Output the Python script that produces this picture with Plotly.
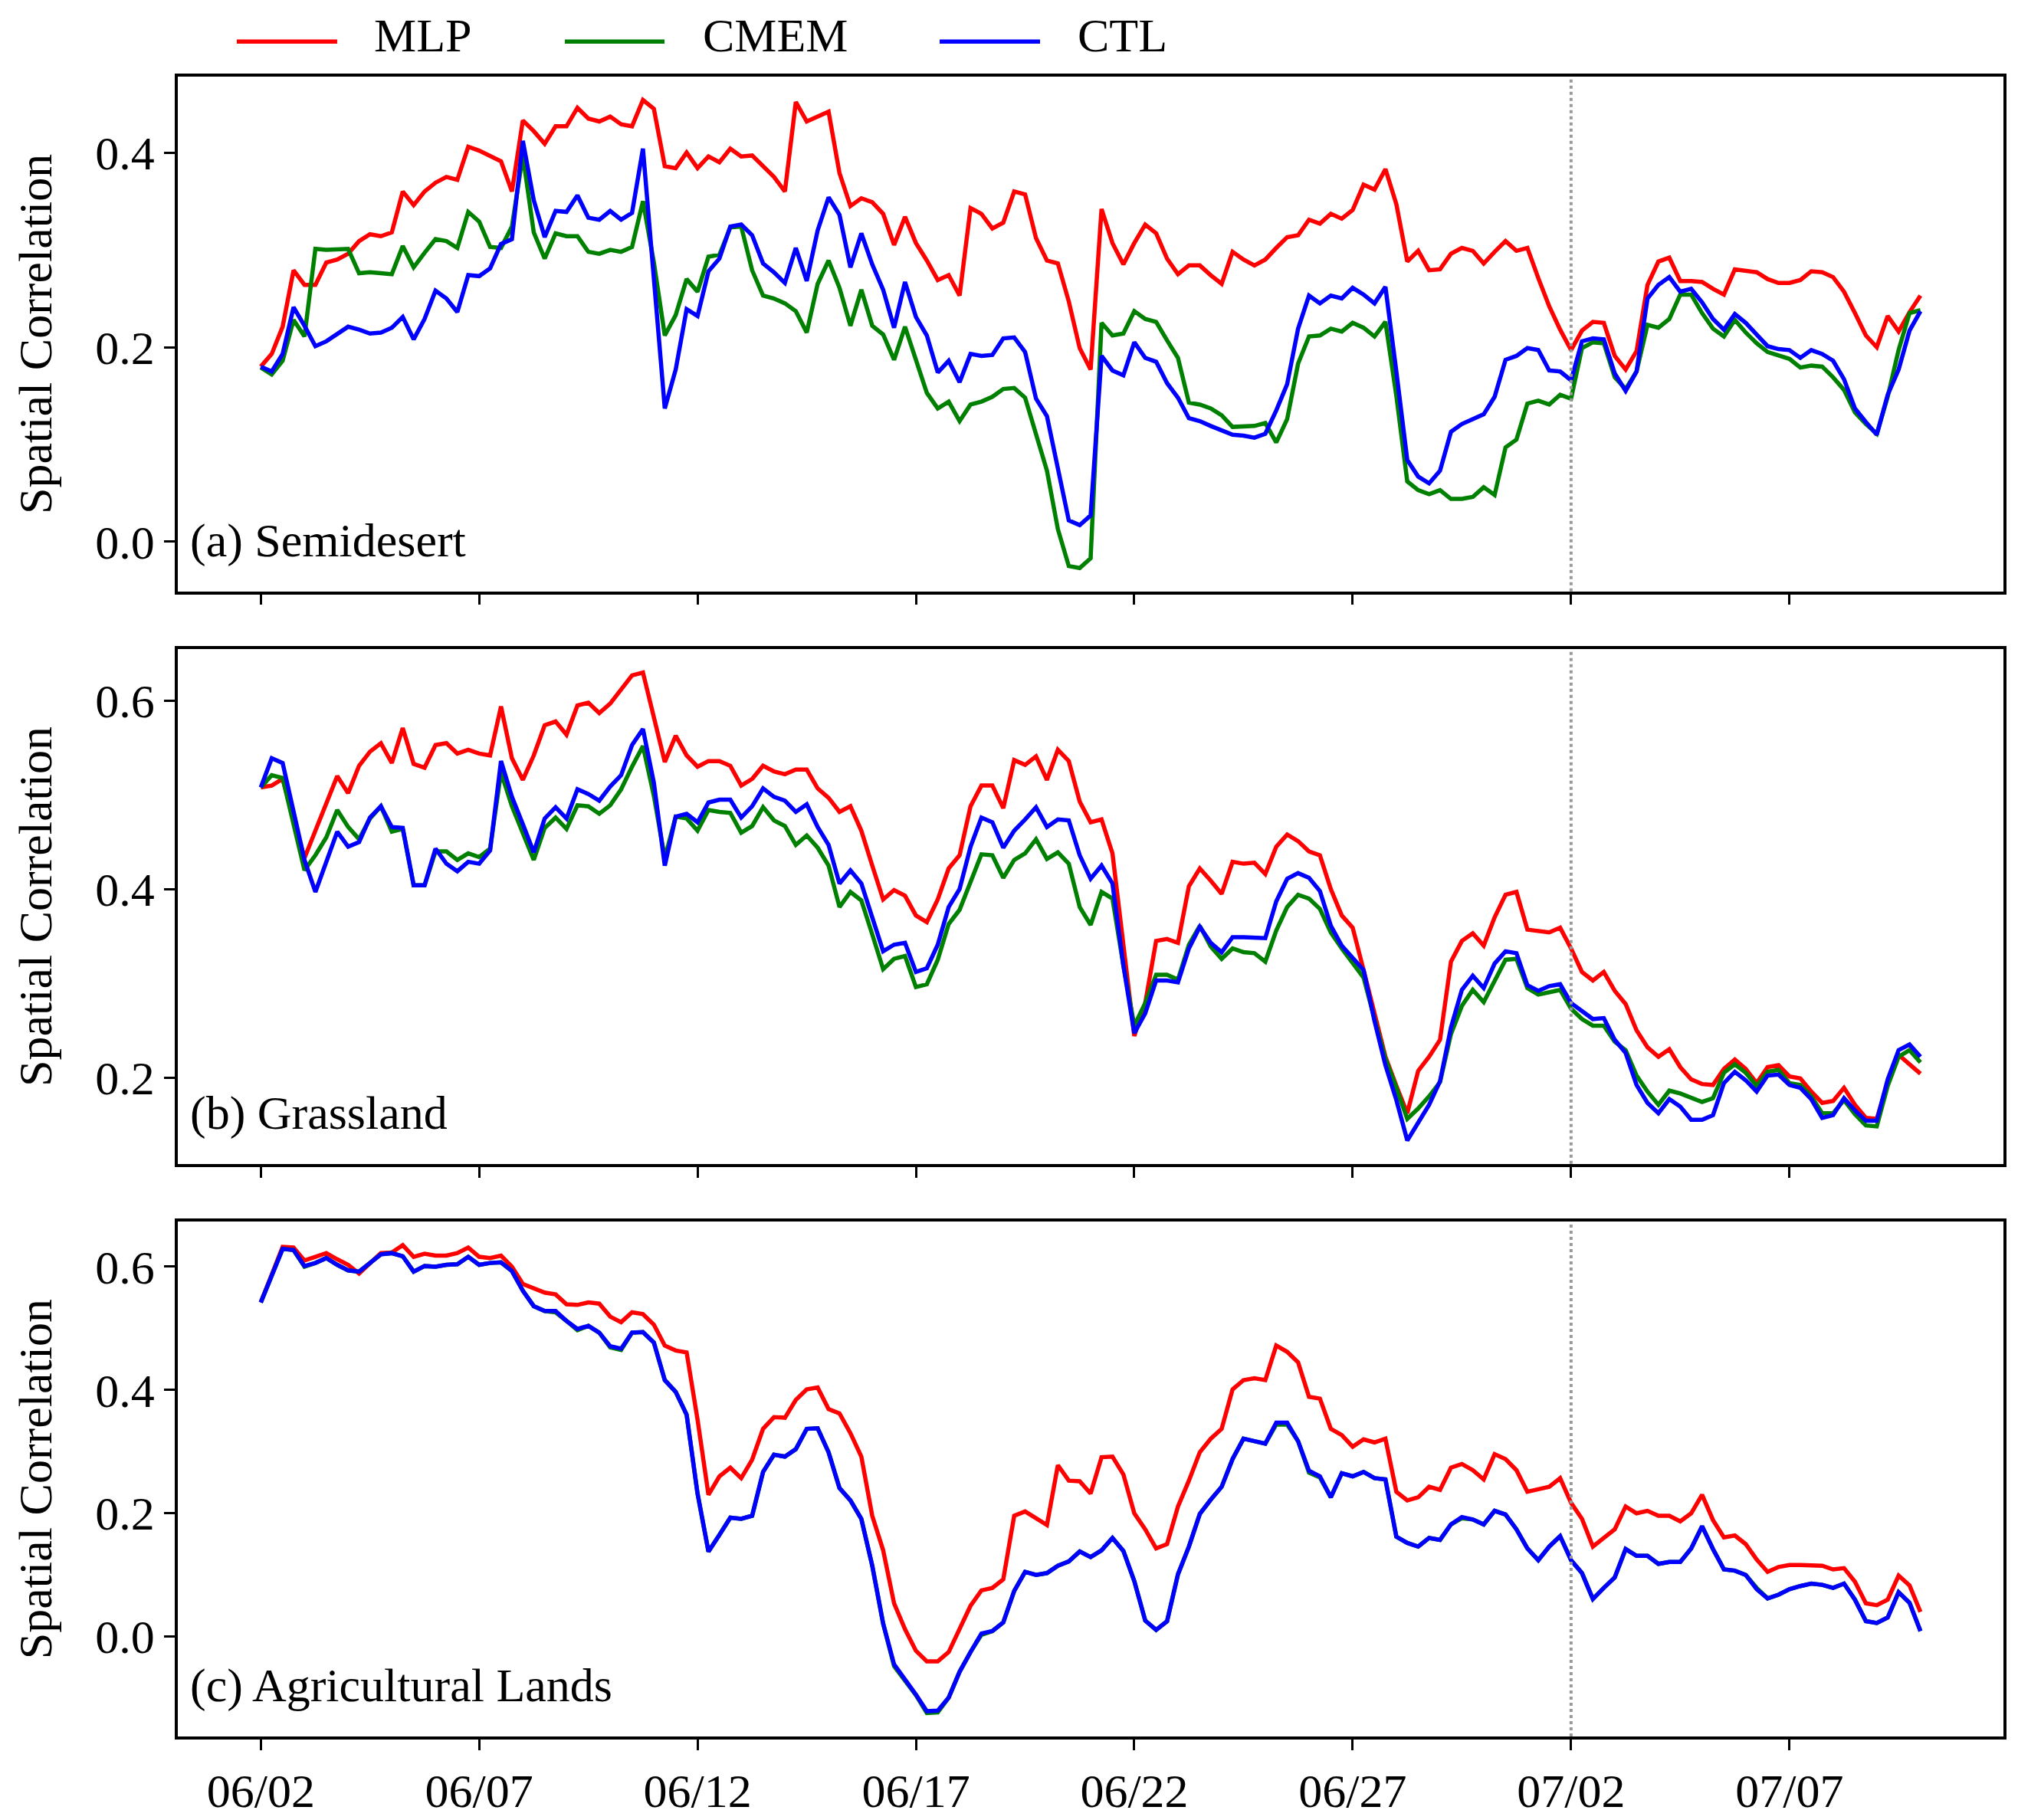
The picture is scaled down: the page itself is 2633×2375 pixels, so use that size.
import pandas as pd
import plotly.graph_objects as go
from plotly.subplots import make_subplots

# 6-hourly spatial correlation, 06/02 00:00 -> 07/10 00:00
start_date = "2021-06-02"
tick_labels = ["06/02", "06/07", "06/12", "06/17", "06/22", "06/27", "07/02", "07/07"]
tick_dates = ["2021-06-02", "2021-06-07", "2021-06-12", "2021-06-17",
              "2021-06-22", "2021-06-27", "2021-07-02", "2021-07-07"]
split_date = "2021-07-02"

panel_titles = ["(a) Semidesert", "(b) Grassland", "(c) Agricultural Lands"]
series_names = ["MLP", "CMEM", "CTL"]

# (a) Semidesert
mlp_a = [0.180, 0.193, 0.221, 0.279, 0.264, 0.264, 0.287, 0.290, 0.296, 0.309,
         0.316, 0.314, 0.318, 0.360, 0.346, 0.360, 0.369, 0.375, 0.372, 0.406,
         0.402, 0.397, 0.391, 0.360, 0.433, 0.422, 0.409, 0.427, 0.427, 0.446,
         0.435, 0.432, 0.437, 0.429, 0.427, 0.454, 0.445, 0.386, 0.384, 0.400,
         0.384, 0.396, 0.390, 0.404, 0.396, 0.397, 0.386, 0.375, 0.360, 0.452,
         0.432, 0.437, 0.442, 0.379, 0.345, 0.353, 0.349, 0.337, 0.305, 0.334,
         0.307, 0.289, 0.269, 0.274, 0.253, 0.343, 0.337, 0.322, 0.328, 0.360,
         0.357, 0.312, 0.289, 0.286, 0.247, 0.199, 0.177, 0.342, 0.307, 0.285,
         0.307, 0.326, 0.317, 0.291, 0.275, 0.284, 0.284, 0.274, 0.265, 0.298,
         0.290, 0.284, 0.290, 0.302, 0.313, 0.315, 0.331, 0.327, 0.337, 0.332,
         0.341, 0.367, 0.362, 0.383, 0.347, 0.288, 0.299, 0.279, 0.280, 0.296,
         0.302, 0.299, 0.286, 0.298, 0.309, 0.299, 0.302, 0.271, 0.242, 0.218,
         0.197, 0.217, 0.226, 0.225, 0.191, 0.177, 0.196, 0.264, 0.288, 0.292,
         0.268, 0.268, 0.267, 0.260, 0.254, 0.280, 0.279, 0.277, 0.270, 0.266,
         0.266, 0.269, 0.278, 0.277, 0.272, 0.257, 0.235, 0.212, 0.200, 0.232,
         0.216, 0.236, 0.253]
cmem_a = [0.179, 0.172, 0.186, 0.228, 0.211, 0.301, 0.300, 0.301, 0.301, 0.276,
          0.277, 0.276, 0.275, 0.304, 0.282, 0.297, 0.311, 0.309, 0.302, 0.339,
          0.329, 0.303, 0.302, 0.324, 0.397, 0.318, 0.291, 0.317, 0.314, 0.314,
          0.298, 0.296, 0.300, 0.298, 0.303, 0.350, 0.287, 0.212, 0.233, 0.270,
          0.257, 0.293, 0.295, 0.323, 0.324, 0.279, 0.253, 0.250, 0.245, 0.237,
          0.215, 0.265, 0.289, 0.261, 0.222, 0.259, 0.222, 0.213, 0.187, 0.221,
          0.187, 0.153, 0.137, 0.144, 0.124, 0.141, 0.144, 0.149, 0.157, 0.158,
          0.148, 0.111, 0.073, 0.013, -0.025, -0.027, -0.017, 0.225, 0.212, 0.214,
          0.237, 0.229, 0.226, 0.207, 0.189, 0.143, 0.141, 0.137, 0.130, 0.118,
          0.119, 0.119, 0.122, 0.102, 0.126, 0.183, 0.211, 0.212, 0.219, 0.216,
          0.225, 0.220, 0.211, 0.226, 0.150, 0.062, 0.053, 0.049, 0.053, 0.044,
          0.044, 0.046, 0.056, 0.048, 0.097, 0.105, 0.142, 0.145, 0.141, 0.151,
          0.147, 0.199, 0.205, 0.204, 0.169, 0.157, 0.175, 0.223, 0.220, 0.229,
          0.254, 0.254, 0.235, 0.219, 0.211, 0.228, 0.215, 0.204, 0.195, 0.192,
          0.188, 0.179, 0.181, 0.180, 0.169, 0.156, 0.133, 0.121, 0.111, 0.149,
          0.197, 0.235, 0.238]
ctl_a = [0.180, 0.175, 0.193, 0.241, 0.222, 0.201, 0.206, 0.213, 0.221, 0.218,
         0.214, 0.215, 0.220, 0.231, 0.208, 0.229, 0.258, 0.250, 0.236, 0.274,
         0.273, 0.281, 0.306, 0.311, 0.412, 0.351, 0.313, 0.340, 0.339, 0.356,
         0.333, 0.331, 0.340, 0.331, 0.338, 0.404, 0.270, 0.137, 0.177, 0.239,
         0.232, 0.278, 0.291, 0.324, 0.326, 0.315, 0.286, 0.277, 0.266, 0.302,
         0.268, 0.320, 0.354, 0.336, 0.282, 0.317, 0.285, 0.259, 0.220, 0.267,
         0.231, 0.212, 0.174, 0.186, 0.164, 0.193, 0.191, 0.192, 0.209, 0.210,
         0.195, 0.147, 0.129, 0.075, 0.022, 0.017, 0.027, 0.191, 0.176, 0.171,
         0.205, 0.189, 0.185, 0.163, 0.148, 0.127, 0.124, 0.119, 0.114, 0.110,
         0.109, 0.107, 0.111, 0.135, 0.162, 0.219, 0.253, 0.245, 0.253, 0.250,
         0.261, 0.254, 0.245, 0.262, 0.175, 0.084, 0.067, 0.060, 0.073, 0.113,
         0.121, 0.126, 0.131, 0.149, 0.187, 0.191, 0.199, 0.197, 0.176, 0.175,
         0.166, 0.206, 0.209, 0.208, 0.173, 0.155, 0.175, 0.250, 0.264, 0.272,
         0.257, 0.260, 0.246, 0.229, 0.218, 0.234, 0.225, 0.213, 0.201, 0.198,
         0.197, 0.189, 0.197, 0.193, 0.186, 0.167, 0.137, 0.123, 0.110, 0.151,
         0.177, 0.217, 0.237]

# (b) Grassland
mlp_b = [0.508, 0.510, 0.517, 0.473, 0.433, 0.462, 0.492, 0.520, 0.502, 0.531,
         0.546, 0.555, 0.534, 0.571, 0.533, 0.529, 0.553, 0.555, 0.544, 0.548,
         0.544, 0.542, 0.594, 0.539, 0.516, 0.542, 0.574, 0.578, 0.564, 0.595,
         0.598, 0.587, 0.597, 0.612, 0.627, 0.630, 0.583, 0.535, 0.563, 0.542,
         0.530, 0.536, 0.536, 0.531, 0.510, 0.517, 0.531, 0.525, 0.522, 0.527,
         0.527, 0.507, 0.497, 0.482, 0.488, 0.462, 0.425, 0.389, 0.399, 0.393,
         0.372, 0.365, 0.389, 0.422, 0.436, 0.488, 0.510, 0.510, 0.486, 0.537,
         0.532, 0.541, 0.516, 0.548, 0.536, 0.493, 0.471, 0.474, 0.438, 0.341,
         0.244, 0.279, 0.345, 0.347, 0.343, 0.403, 0.422, 0.409, 0.395, 0.429,
         0.427, 0.428, 0.416, 0.445, 0.458, 0.451, 0.440, 0.436, 0.400, 0.372,
         0.359, 0.314, 0.268, 0.222, 0.191, 0.162, 0.207, 0.222, 0.240, 0.323,
         0.345, 0.353, 0.340, 0.370, 0.394, 0.397, 0.357, 0.355, 0.354, 0.359,
         0.337, 0.312, 0.303, 0.312, 0.292, 0.278, 0.250, 0.232, 0.222, 0.230,
         0.211, 0.198, 0.193, 0.192, 0.209, 0.219, 0.209, 0.194, 0.211, 0.213,
         0.201, 0.199, 0.185, 0.173, 0.175, 0.189, 0.171, 0.157, 0.156, 0.194,
         0.224, 0.214, 0.204]
cmem_b = [0.508, 0.521, 0.518, 0.469, 0.420, 0.436, 0.455, 0.484, 0.466, 0.453,
          0.475, 0.488, 0.461, 0.464, 0.404, 0.404, 0.440, 0.440, 0.431, 0.438,
          0.434, 0.443, 0.524, 0.488, 0.460, 0.431, 0.465, 0.476, 0.464, 0.489,
          0.488, 0.480, 0.489, 0.506, 0.530, 0.552, 0.499, 0.433, 0.477, 0.475,
          0.462, 0.484, 0.482, 0.481, 0.460, 0.467, 0.487, 0.473, 0.467, 0.447,
          0.457, 0.444, 0.425, 0.381, 0.397, 0.388, 0.352, 0.315, 0.326, 0.329,
          0.296, 0.299, 0.325, 0.363, 0.378, 0.408, 0.437, 0.436, 0.412, 0.431,
          0.438, 0.453, 0.432, 0.439, 0.427, 0.381, 0.362, 0.397, 0.390, 0.319,
          0.255, 0.279, 0.309, 0.309, 0.304, 0.341, 0.361, 0.339, 0.326, 0.337,
          0.333, 0.332, 0.323, 0.356, 0.381, 0.394, 0.390, 0.379, 0.354, 0.337,
          0.321, 0.306, 0.262, 0.220, 0.189, 0.156, 0.167, 0.180, 0.195, 0.246,
          0.276, 0.293, 0.280, 0.303, 0.325, 0.326, 0.295, 0.288, 0.290, 0.293,
          0.273, 0.262, 0.255, 0.255, 0.238, 0.229, 0.202, 0.185, 0.171, 0.186,
          0.183, 0.178, 0.174, 0.178, 0.205, 0.214, 0.205, 0.191, 0.206, 0.208,
          0.194, 0.192, 0.180, 0.162, 0.162, 0.176, 0.161, 0.149, 0.148, 0.191,
          0.222, 0.229, 0.216]
ctl_b = [0.508, 0.539, 0.534, 0.482, 0.431, 0.397, 0.428, 0.461, 0.445, 0.450,
         0.476, 0.488, 0.466, 0.465, 0.404, 0.404, 0.443, 0.427, 0.419, 0.429,
         0.427, 0.441, 0.536, 0.498, 0.469, 0.439, 0.475, 0.487, 0.475, 0.506,
         0.501, 0.494, 0.509, 0.521, 0.553, 0.570, 0.513, 0.425, 0.477, 0.480,
         0.471, 0.492, 0.495, 0.495, 0.476, 0.488, 0.507, 0.498, 0.494, 0.482,
         0.490, 0.466, 0.447, 0.406, 0.420, 0.406, 0.370, 0.334, 0.341, 0.343,
         0.312, 0.316, 0.341, 0.381, 0.400, 0.445, 0.476, 0.471, 0.444, 0.462,
         0.474, 0.487, 0.466, 0.474, 0.473, 0.436, 0.411, 0.425, 0.406, 0.319,
         0.247, 0.268, 0.303, 0.303, 0.301, 0.337, 0.360, 0.343, 0.333, 0.349,
         0.349, 0.348, 0.348, 0.387, 0.411, 0.417, 0.412, 0.398, 0.361, 0.340,
         0.327, 0.314, 0.260, 0.213, 0.176, 0.133, 0.152, 0.171, 0.196, 0.253,
         0.293, 0.308, 0.295, 0.321, 0.334, 0.332, 0.298, 0.292, 0.297, 0.299,
         0.279, 0.270, 0.262, 0.263, 0.240, 0.226, 0.192, 0.173, 0.162, 0.177,
         0.169, 0.155, 0.155, 0.160, 0.194, 0.206, 0.197, 0.185, 0.202, 0.203,
         0.192, 0.189, 0.177, 0.157, 0.160, 0.178, 0.165, 0.154, 0.154, 0.198,
         0.229, 0.235, 0.222]

# (c) Agricultural Lands
mlp_c = [0.542, 0.586, 0.632, 0.631, 0.610, 0.616, 0.622, 0.612, 0.603, 0.589,
         0.606, 0.622, 0.623, 0.635, 0.616, 0.621, 0.618, 0.618, 0.622, 0.631,
         0.616, 0.614, 0.618, 0.600, 0.572, 0.565, 0.558, 0.555, 0.539, 0.538,
         0.542, 0.540, 0.519, 0.510, 0.526, 0.523, 0.506, 0.472, 0.464, 0.461,
         0.352, 0.230, 0.260, 0.274, 0.257, 0.287, 0.337, 0.356, 0.355, 0.384,
         0.401, 0.404, 0.369, 0.362, 0.330, 0.292, 0.196, 0.140, 0.054, 0.012,
         -0.023, -0.040, -0.040, -0.025, 0.012, 0.050, 0.075, 0.079, 0.093, 0.196,
         0.203, 0.191, 0.181, 0.278, 0.253, 0.252, 0.232, 0.291, 0.292, 0.263,
         0.200, 0.174, 0.143, 0.150, 0.211, 0.253, 0.299, 0.321, 0.337, 0.401,
         0.416, 0.419, 0.416, 0.472, 0.462, 0.445, 0.389, 0.386, 0.337, 0.327,
         0.308, 0.320, 0.315, 0.321, 0.235, 0.221, 0.226, 0.243, 0.238, 0.274,
         0.280, 0.270, 0.255, 0.296, 0.288, 0.270, 0.235, 0.239, 0.243, 0.257,
         0.217, 0.191, 0.146, 0.160, 0.174, 0.211, 0.200, 0.204, 0.196, 0.196,
         0.187, 0.200, 0.230, 0.189, 0.161, 0.164, 0.150, 0.125, 0.105, 0.113,
         0.116, 0.116, 0.116, 0.115, 0.109, 0.111, 0.089, 0.054, 0.051, 0.060,
         0.099, 0.083, 0.040]
cmem_c = [0.542, 0.586, 0.629, 0.627, 0.600, 0.606, 0.614, 0.603, 0.594, 0.592,
          0.606, 0.620, 0.622, 0.617, 0.592, 0.601, 0.600, 0.603, 0.604, 0.616,
          0.603, 0.606, 0.607, 0.593, 0.561, 0.536, 0.528, 0.526, 0.512, 0.497,
          0.504, 0.493, 0.469, 0.465, 0.493, 0.494, 0.477, 0.416, 0.397, 0.360,
          0.232, 0.138, 0.165, 0.193, 0.191, 0.196, 0.267, 0.295, 0.292, 0.304,
          0.337, 0.338, 0.299, 0.241, 0.221, 0.191, 0.115, 0.021, -0.048, -0.072,
          -0.095, -0.124, -0.123, -0.099, -0.057, -0.025, 0.003, 0.009, 0.023, 0.074,
          0.105, 0.100, 0.103, 0.115, 0.122, 0.138, 0.129, 0.140, 0.160, 0.139,
          0.090, 0.026, 0.011, 0.025, 0.101, 0.146, 0.199, 0.222, 0.243, 0.288,
          0.321, 0.317, 0.313, 0.344, 0.344, 0.317, 0.266, 0.258, 0.226, 0.265,
          0.260, 0.267, 0.257, 0.255, 0.162, 0.152, 0.146, 0.160, 0.157, 0.182,
          0.192, 0.190, 0.182, 0.204, 0.198, 0.174, 0.143, 0.124, 0.146, 0.163,
          0.124, 0.103, 0.061, 0.079, 0.096, 0.142, 0.131, 0.131, 0.118, 0.121,
          0.121, 0.143, 0.179, 0.142, 0.109, 0.107, 0.100, 0.079, 0.062, 0.068,
          0.077, 0.082, 0.086, 0.084, 0.079, 0.086, 0.060, 0.025, 0.022, 0.031,
          0.072, 0.055, 0.009]
ctl_c = [0.542, 0.586, 0.629, 0.627, 0.601, 0.606, 0.614, 0.603, 0.594, 0.592,
         0.606, 0.620, 0.622, 0.617, 0.592, 0.601, 0.600, 0.603, 0.604, 0.616,
         0.603, 0.606, 0.607, 0.593, 0.561, 0.536, 0.528, 0.528, 0.512, 0.499,
         0.504, 0.493, 0.471, 0.467, 0.493, 0.494, 0.477, 0.416, 0.397, 0.360,
         0.232, 0.138, 0.165, 0.193, 0.191, 0.196, 0.267, 0.295, 0.292, 0.304,
         0.337, 0.338, 0.299, 0.241, 0.221, 0.191, 0.115, 0.021, -0.045, -0.069,
         -0.094, -0.121, -0.120, -0.099, -0.057, -0.025, 0.005, 0.009, 0.023, 0.074,
         0.105, 0.100, 0.103, 0.115, 0.122, 0.138, 0.129, 0.140, 0.160, 0.139,
         0.090, 0.026, 0.011, 0.025, 0.101, 0.146, 0.199, 0.222, 0.243, 0.288,
         0.321, 0.317, 0.313, 0.347, 0.347, 0.317, 0.269, 0.260, 0.226, 0.265,
         0.260, 0.267, 0.257, 0.255, 0.162, 0.152, 0.146, 0.160, 0.157, 0.182,
         0.194, 0.190, 0.182, 0.204, 0.198, 0.174, 0.143, 0.124, 0.146, 0.163,
         0.124, 0.103, 0.061, 0.079, 0.096, 0.142, 0.131, 0.131, 0.118, 0.121,
         0.121, 0.143, 0.179, 0.142, 0.109, 0.107, 0.100, 0.077, 0.062, 0.068,
         0.077, 0.082, 0.086, 0.084, 0.079, 0.086, 0.060, 0.025, 0.022, 0.031,
         0.072, 0.055, 0.009]

panels = [(mlp_a, cmem_a, ctl_a), (mlp_b, cmem_b, ctl_b), (mlp_c, cmem_c, ctl_c)]
colors = ["#ff0000", "#008000", "#0000ff"]

times = pd.date_range(start_date, periods=len(mlp_a), freq="6h")
pad_t = (times[-1] - times[0]) * 0.05
x_range = [times[0] - pad_t, times[-1] + pad_t]

FONT = "Liberation Serif, Times New Roman, serif"
FS = 62
LW = 5.5

fig = make_subplots(rows=3, cols=1, shared_xaxes=True, vertical_spacing=0.0348)

for r, series in enumerate(panels, start=1):
    for name, vals, col in zip(series_names, series, colors):
        fig.add_trace(go.Scatter(x=times, y=vals, mode="lines", name=name,
                                 line=dict(color=col, width=LW),
                                 showlegend=False), row=r, col=1)
    lo = min(min(s) for s in series)
    hi = max(max(s) for s in series)
    pad = (hi - lo) * 0.05
    fig.update_yaxes(range=[lo - pad, hi + pad], row=r, col=1)

    fig.add_vline(x=split_date, line=dict(color="#999999", width=4, dash="dot"),
                  row=r, col=1)

    sfx = "" if r == 1 else str(r)
    fig.add_annotation(text=panel_titles[r - 1], xref=f"x{sfx} domain", yref=f"y{sfx} domain",
                       x=0.006, y=0.099, xanchor="left", yanchor="middle",
                       showarrow=False, font=dict(family=FONT, size=FS, color="black"))

axis_style = dict(showline=True, linecolor="black", linewidth=3.5, mirror=True,
                  ticks="outside", ticklen=14, tickwidth=3, tickcolor="black",
                  showgrid=False, zeroline=False,
                  tickfont=dict(family=FONT, size=FS, color="black"))

fig.update_xaxes(**axis_style, range=x_range, tickvals=pd.to_datetime(tick_dates),
                 ticktext=tick_labels)
fig.update_yaxes(**axis_style, dtick=0.2, tickformat=".1f",
                 title=dict(text="Spatial Correlation", standoff=38,
                            font=dict(family=FONT, size=FS, color="black")))

# legend drawn across the top, above panel (a)
leg_y = 1.0211
leg_items = [(0.0323, 0.0873, 0.1066), (0.2120, 0.2666, 0.2867), (0.4173, 0.4723, 0.4920)]
for (x0, x1, xt), name, col in zip(leg_items, series_names, colors):
    fig.add_shape(type="line", xref="paper", yref="paper", x0=x0, x1=x1, y0=leg_y, y1=leg_y,
                  line=dict(color=col, width=LW))
    fig.add_annotation(text=name, xref="paper", yref="paper", x=xt, y=leg_y, yshift=8,
                       xanchor="left", yanchor="middle", showarrow=False,
                       font=dict(family=FONT, size=FS, color="black"))

fig.update_layout(
    width=2633, height=2375,
    margin=dict(l=224, r=27, t=92, b=99),
    plot_bgcolor="white", paper_bgcolor="white",
    font=dict(family=FONT, size=FS, color="black"),
)

fig.write_html("out.html")
